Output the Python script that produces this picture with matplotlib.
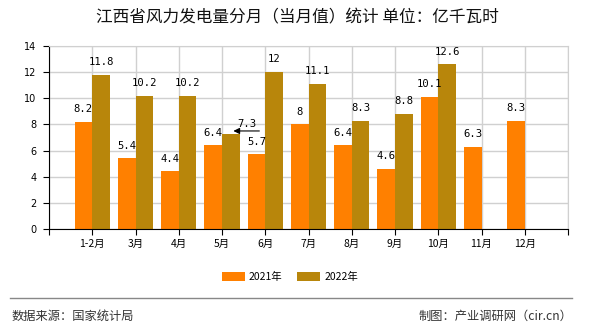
import matplotlib
matplotlib.use("Agg")
import matplotlib.pyplot as plt
import numpy as np

plt.rcParams['font.family'] = ['DejaVu Sans', 'Noto Sans CJK SC']

months = ["1-2月", "3月", "4月", "5月", "6月", "7月", "8月", "9月", "10月", "11月", "12月"]
v2021 = [8.2, 5.4, 4.4, 6.4, 5.7, 8, 6.4, 4.6, 10.1, 6.3, 8.3]
v2022 = [11.8, 10.2, 10.2, 7.3, 12, 11.1, 8.3, 8.8, 12.6, None, None]

c2021 = "#FF8000"
c2022 = "#B8860B"
cjk = ['Noto Sans CJK SC', 'DejaVu Sans']

fig = plt.figure(figsize=(5.9, 3.3), dpi=100)
ax = fig.add_axes([49 / 590, 1 - 229 / 330, 519 / 590, 183 / 330])

x = np.arange(1, len(months) + 1)
w = 0.41
b1 = ax.bar(x - w / 2, v2021, width=w, color=c2021, label="2021年", zorder=2)
x22 = [xi for xi, v in zip(x, v2022) if v is not None]
y22 = [v for v in v2022 if v is not None]
b2 = ax.bar(np.array(x22) + w / 2, y22, width=w, color=c2022, label="2022年", zorder=2)

lbl = dict(textcoords="offset points", ha="center", va="center", fontsize=7.6,
           family="DejaVu Sans Mono", zorder=3)
for xi, v in zip(x, v2021):
    ax.annotate(f"{v:g}", xy=(xi - w / 2, v), xytext=(0, 9.2), **lbl)
for xi, v in zip(x22, y22):
    if xi == 4:
        continue
    ax.annotate(f"{v:g}", xy=(xi + w / 2, v), xytext=(0, 9.2), **lbl)

# 5月 2022 label is pushed aside with an arrow
tip = (4 + w / 2 + 0.058, 7.5)
ax.annotate("", xy=tip, xytext=(18.7, 0), textcoords="offset points",
            arrowprops=dict(arrowstyle="-|>", color="black", lw=0.8,
                            mutation_scale=9, shrinkA=0, shrinkB=0), zorder=3)
ax.annotate("7.3", xy=tip, xytext=(10, 5.2), **lbl)

ax.set_xlim(0, 12)
ax.set_ylim(0, 14)
ax.set_xticks(np.arange(0, 13))
ax.set_xticklabels([""] + months + [""], fontsize=7.5, family=cjk)
ax.set_yticks(np.arange(0, 15, 2))
ax.tick_params(axis="y", labelsize=7, length=4, pad=5)
ax.tick_params(axis="x", length=4, pad=3)
ax.grid(True, color="#d0d0d0", lw=1, zorder=0)
ax.set_axisbelow(True)
for s in ["top", "right"]:
    ax.spines[s].set_color("#d0d0d0")
for s in ["left", "bottom"]:
    ax.spines[s].set_color("black")

fig.text(0.5035, 1 - 18 / 330, "江西省风力发电量分月（当月值）统计 单位：亿千瓦时",
         ha="center", va="center", fontsize=12, family=cjk, color="#111111")

fig.legend(handles=[b1, b2], loc="center", bbox_to_anchor=(290 / 590, 1 - 277 / 330),
           ncol=2, frameon=False, handlelength=2.2, handleheight=0.85,
           handletextpad=0.4, columnspacing=1.4, prop={'family': cjk, 'size': 7.5})

fig.add_artist(plt.Line2D([10 / 590, 572 / 590], [1 - 298 / 330, 1 - 298 / 330],
                          color="#888888", lw=1))
fig.text(12 / 590, 1 - 316 / 330, "数据来源：国家统计局", ha="left", va="center",
         fontsize=8.8, family=cjk, color="#333333")
fig.text(572 / 590, 1 - 316 / 330, "制图：产业调研网（cir.cn）", ha="right", va="center",
         fontsize=8.8, family=cjk, color="#333333")

fig.savefig("out.png", dpi=100)
